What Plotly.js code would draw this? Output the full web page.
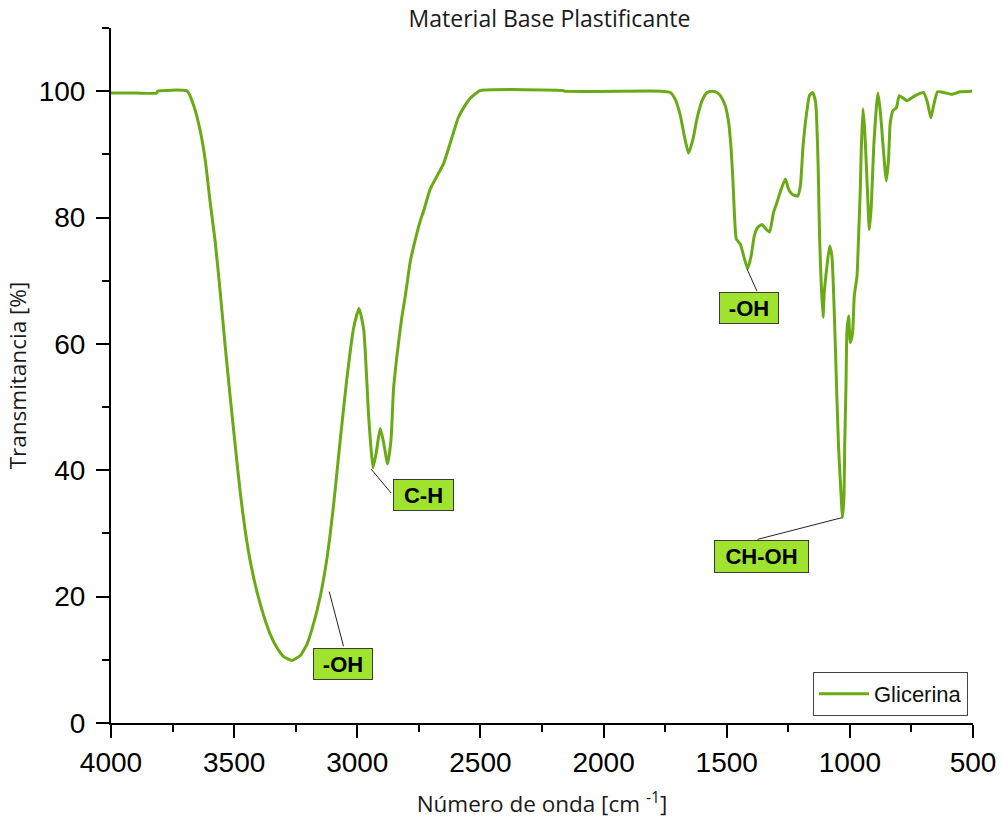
<!DOCTYPE html>
<html>
<head>
<meta charset="utf-8">
<script src="https://cdn.plot.ly/plotly-3.0.1.min.js"></script>
<style>
  html, body { margin: 0; padding: 0; background: #ffffff; }
  #chart { width: 1001px; height: 825px; }
</style>
</head>
<body>
<div id="chart"></div>
<script>
// FTIR spectrum of glycerol (plasticizer base material)
const wavenumber = [
  4000, 3900, 3815, 3810, 3690, 3665, 3637, 3617, 3597, 3577, 3556, 3536, 3516, 3495,
  3475, 3455, 3434, 3407, 3380, 3353, 3326, 3299, 3265, 3231, 3204, 3177, 3150, 3123,
  3096, 3069, 3042, 3015, 2993, 2974, 2963, 2954, 2944, 2936, 2923, 2907, 2893, 2877,
  2863, 2853, 2839, 2820, 2805, 2785, 2764, 2744, 2731, 2704, 2676, 2650, 2629, 2609,
  2590, 2568, 2541, 2520, 2500, 2163, 2160, 1770, 1729, 1709, 1688, 1672, 1655, 1637,
  1621, 1600, 1580, 1560, 1540, 1526, 1506, 1492, 1483, 1475, 1469, 1461, 1445, 1431,
  1415, 1401, 1388, 1375, 1357, 1339, 1326, 1310, 1296, 1283, 1262, 1249, 1235, 1212,
  1201, 1190, 1177, 1164, 1151, 1139, 1131, 1127, 1123, 1117, 1109, 1104, 1093, 1082,
  1073, 1066, 1059, 1052, 1046, 1039, 1034, 1030, 1024, 1021, 1016, 1012, 1005, 998,
  989, 982, 971, 965, 958, 954, 947, 940, 933, 926, 921, 913, 903, 892,
  886, 876, 865, 852, 843, 836, 825, 811, 799, 768, 734, 701, 685, 671,
  660, 644, 619, 585, 552, 504
];
const transmittance = [
  99.7, 99.7, 99.7, 100.0, 100.0, 97.8, 93.6, 89.0, 82.3, 76.2, 68.0, 59.5, 51.6, 43.7,
  36.4, 30.4, 25.5, 20.7, 17.0, 14.0, 11.9, 10.5, 9.9, 10.7, 12.5, 15.8, 20.1, 26.1,
  34.6, 44.9, 54.6, 62.5, 65.6, 62.3, 55.4, 48.6, 43.3, 40.4, 42.8, 46.6, 44.4, 41.0,
  44.9, 52.8, 58.1, 64.0, 67.6, 73.0, 76.6, 79.5, 81.0, 84.5, 86.6, 88.5, 91.0, 93.5,
  95.8, 97.4, 98.9, 99.6, 100.1, 100.1, 100.0, 100.0, 99.8, 98.7, 96.1, 92.9, 90.2, 92.4,
  95.6, 98.5, 99.8, 100.0, 99.8, 99.3, 97.7, 95.0, 91.3, 86.1, 80.8, 76.6, 75.8, 73.9,
  71.9, 73.9, 77.1, 78.4, 78.9, 78.1, 77.7, 80.8, 82.4, 84.0, 86.1, 84.5, 83.7, 83.4,
  85.0, 91.3, 96.1, 99.3, 99.8, 98.2, 91.3, 85.0, 77.1, 70.2, 64.2, 68.1, 72.3, 75.5,
  73.9, 68.1, 59.7, 50.7, 43.8, 38.5, 34.9, 32.5, 35.9, 43.8, 52.8, 61.8, 64.4, 60.2,
  61.8, 67.6, 70.7, 76.6, 84.0, 90.3, 97.2, 94.0, 88.2, 81.8, 78.1, 81.8, 91.3, 97.7,
  99.7, 96.6, 91.3, 85.8, 89.2, 95.0, 96.9, 97.4, 99.3, 98.5, 99.3, 99.8, 98.2, 95.8,
  97.7, 99.9, 99.8, 99.5, 99.9, 100.0
];

// Band assignments
const bandLabels = ['-OH', 'C-H', '-OH', 'CH-OH'];
const bandWavenumber = [3114, 2944, 1418, 1032];
const bandTransmittance = [20.8, 40.2, 71.9, 32.5];

// Axis ticks
const xTickVals = [4000, 3500, 3000, 2500, 2000, 1500, 1000, 500];
const yTickVals = [0, 20, 40, 60, 80, 100];

// Label box placement (screen px, relative to the band point)
const boxOffset = [[13.3, 72.5], [52.1, 25.7], [1.6, 39.4], [-80.7, 38.7]];
const boxSize = [[56, 28], [57, 28], [56, 28], [91, 29]];
const leaderEnd = [[14.3, 54.7], [20, 24], [10, 22.4], [-84.4, 21.7]];

const lineColor = '#6aaa16';
const boxFill = '#9fe32f';
const tickFont = { family: 'Liberation Sans, Arial, sans-serif', size: 28, color: '#000' };
const axisTitleFont = { family: 'Open Sans, sans-serif', size: 22.5, color: '#1a1a1a' };
const mainTitleFont = { family: 'Open Sans, sans-serif', size: 23, color: '#1a1a1a' };

const trace = {
  x: wavenumber,
  y: transmittance,
  type: 'scatter',
  mode: 'lines',
  name: 'Glicerina',
  line: { color: lineColor, width: 3, shape: 'spline', smoothing: 0.5 }
};

const annotations = bandLabels.map((t, i) => ({
  x: bandWavenumber[i], y: bandTransmittance[i], xref: 'x', yref: 'y',
  text: t, showarrow: false,
  xanchor: 'center', yanchor: 'middle',
  xshift: boxOffset[i][0], yshift: -boxOffset[i][1],
  width: boxSize[i][0], height: boxSize[i][1],
  bgcolor: boxFill, bordercolor: '#3a3a3a', borderwidth: 1, borderpad: 1,
  font: { family: 'Liberation Sans, Arial, sans-serif', size: 22, color: '#000', weight: 'bold' }
}));

const shapes = bandLabels.map((t, i) => ({
  type: 'line', xref: 'x', yref: 'y',
  xsizemode: 'pixel', ysizemode: 'pixel',
  xanchor: bandWavenumber[i], yanchor: bandTransmittance[i],
  x0: 0, y0: 0, x1: leaderEnd[i][0], y1: -leaderEnd[i][1],
  line: { color: '#222', width: 1 }
}));

const layout = {
  width: 1001, height: 825,
  margin: { l: 111, r: 28, t: 28, b: 102 },
  paper_bgcolor: '#fff', plot_bgcolor: '#fff',
  title: {
    text: 'Material Base Plastificante',
    font: mainTitleFont,
    xref: 'container', x: 549.5 / 1001, xanchor: 'center',
    yref: 'container', y: 1 - 19 / 825, yanchor: 'middle'
  },
  xaxis: {
    range: [4000, 500],
    tickvals: xTickVals,
    ticktext: xTickVals.map(String),
    ticks: 'outside', ticklen: 13, tickwidth: 2, tickcolor: '#000',
    minor: { dtick: 250, tick0: 0, ticks: 'outside', ticklen: 7, tickwidth: 2, tickcolor: '#000' },
    showline: true, linewidth: 2, linecolor: '#000',
    showgrid: false, zeroline: false,
    tickfont: tickFont,
    title: { text: 'Número de onda [cm <sup>-1</sup>]', font: axisTitleFont, standoff: 20 }
  },
  yaxis: {
    range: [0, 110],
    tickvals: yTickVals,
    ticktext: yTickVals.map(String),
    ticks: 'outside', ticklen: 13, tickwidth: 2, tickcolor: '#000',
    ticklabelstandoff: 5,
    minor: { dtick: 10, tick0: 0, ticks: 'outside', ticklen: 7, tickwidth: 2, tickcolor: '#000' },
    showline: true, linewidth: 2, linecolor: '#000',
    showgrid: false, zeroline: false,
    tickfont: tickFont,
    title: { text: 'Transmitancia [%]', font: axisTitleFont, standoff: 6 }
  },
  showlegend: true,
  legend: {
    x: (813 - 111) / 862, y: (723 - 672) / 695, xanchor: 'left', yanchor: 'top',
    bgcolor: '#fff', bordercolor: '#444', borderwidth: 1,
    font: { family: 'Liberation Sans, Arial, sans-serif', size: 22, color: '#111' },
    itemwidth: 50
  },
  annotations: annotations,
  shapes: shapes
};

Plotly.newPlot('chart', [trace], layout, { displayModeBar: false, staticPlot: true });
</script>
</body>
</html>
